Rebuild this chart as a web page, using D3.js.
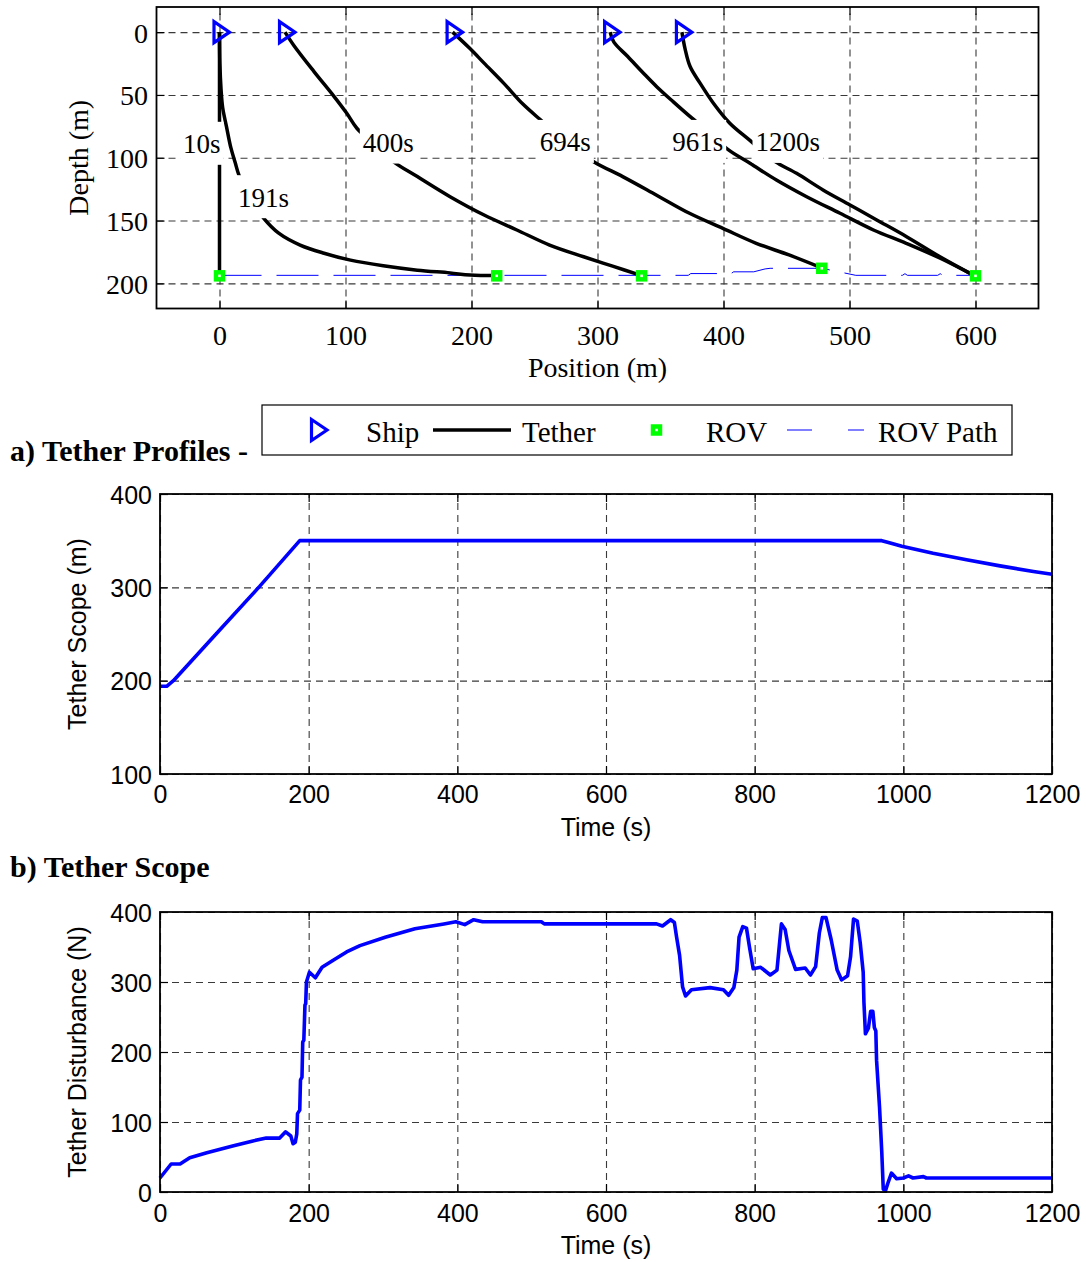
<!DOCTYPE html>
<html><head><meta charset="utf-8">
<script src="https://cdn.jsdelivr.net/npm/d3@7"></script>
<style>body{margin:0;background:#fff}</style>
</head><body>
<svg id="c" width="1086" height="1262" xmlns="http://www.w3.org/2000/svg"></svg>
<script>
// ---------------- DATA ----------------
// a) Tether profiles  [position (m), depth (m)]
const profileTimes = ["10s", "191s", "400s", "694s", "961s", "1200s"];
const shipX = [0, 52, 185, 310, 367];
const rovX = [0, 220, 335, 478, 600];
const rovDepth = [194, 194, 194, 188, 194];
const tether10 = [[0,0],[0,194]];
const tether191 = [[0,0],[0.3,25],[1.2,45],[2.5,60],[5.5,75],[9,92],[12.5,104],[15.5,114],[25,133],[35,148],[47,160],[64,169.5],[83,176],[104,181.5],[130,186],[157,189.5],[183,191.7],[199,193.4],[220,193.8]];
const tether400 = [[52,0],[59,10.6],[75,31.4],[91,51.3],[101,64.6],[109,76.5],[124,90],[138,103],[157,115],[183,131],[210,145.6],[236,157.5],[262,169.5],[289,178.8],[312,186.3],[335,193.8]];
const tether694 = [[185,0],[199,13.3],[210,24.7],[225.5,40.6],[241,57.5],[255,70],[275,87],[297,103.1],[320,115],[346.6,129.6],[373,144.2],[399.5,156.2],[426,168.1],[452,177.4],[477.4,187.5]];
const tether961 = [[310,0],[313,8],[324,19.4],[336.5,32.7],[347,43.4],[360,55.3],[375,68.5],[390,81],[404,93.8],[421,104.4],[442,117.7],[466,131],[492.5,144.2],[519,157.5],[545,168.1],[572,180],[599,193.8]];
const tether1200 = [[367,0],[369.5,13.3],[373.5,27.4],[381.4,40.6],[392,56.6],[405,72.5],[420.5,85.8],[430,94],[441,103.1],[458,112.4],[479,125.6],[500.4,137.6],[521.6,149.5],[545.3,162.8],[571.8,178.8],[599,193.8]];
const rovPath = [[0,193.6],[372,193.6],[374,192.2],[406,192.2],[408,190.8],[424,190.8],[433,188.5],[437,188],[479,188],[487,190],[495,191.5],[505,193.6],[542,193.6],[544,192.3],[546,193.6],[570,193.6],[572,192.3],[574,193.6],[600,193.6]];
const labelX = [-14, 35, 134, 274.5, 379.5, 451];
const labelDepth = [88.5, 131, 87.5, 87, 87, 87];
const posTicks = [0, 100, 200, 300, 400, 500, 600];
const depthTicks = [0, 50, 100, 150, 200];

// b) Tether scope
const scopeTime  = [0, 9, 18, 72, 134, 188, 971, 980, 998, 1040, 1085, 1130, 1175, 1200];
const scopeValue = [194, 194, 200, 247, 301, 350, 350, 348, 344, 336.5, 329.5, 323, 317, 314];
const timeTicks = [0, 200, 400, 600, 800, 1000, 1200];
const scopeTicks = [100, 200, 300, 400];

// c) Tether disturbance
const distTime  = [0,15,27,40,63,99,125,143,161,169,176,179,182,184,185,188,189,191,192,193.5,195,196,197,201,209,218,233,251,269,303,343,382,398,410,422,434,513,517,668,676,687,692,695,699,703,707,715,740,758,765,772,776,779,784,789,793,798,808,821,830,833,836,841,846,855,868,875,882,887,891,896,903,911,917,925,929,933,938,942,946,947,949,953,956,959,961,963,964,968,971,973,976,979,984,991,1000,1007,1013,1027,1031,1200];
const distValue = [20,40,40,49,56,66,73,77,77,86,80,69,71,83,112,117,160,164,214,217,267,269,300,314,306,321,331,343,352,364,376,383,386,382,389,386,386,383,383,380,389,385,364,338,293,280,289,292,289,281,292,317,364,379,377,350,319,321,310,317,350,383,375,345,318,320,310,322,370,392,392,360,317,303,309,336,390,387,356,314,271,226,234,258,258,235,230,188,121,57,4,2,12,27,19,20,23,20,22,20,20];
const distTicks = [0, 100, 200, 300, 400];

// ---------------- DRAW ----------------
const svg = d3.select('#c');
const serif = '"Liberation Serif","Times New Roman",Times,serif';
const sans = '"Liberation Sans",Arial,Helvetica,sans-serif';

function box(x, y) {
  return {L: Math.min(...x.range()), R: Math.max(...x.range()),
          T: Math.min(...y.range()), B: Math.max(...y.range())};
}
function drawGrid(x, y, xt, yt) {
  const b = box(x, y);
  const g = svg.append('g');
  g.append('g').attr('transform', `translate(0,${b.B})`)
    .call(d3.axisBottom(x).tickValues(xt).tickSize(-(b.B - b.T)).tickFormat(''));
  g.append('g').attr('transform', `translate(${b.L},0)`)
    .call(d3.axisLeft(y).tickValues(yt).tickSize(-(b.R - b.L)).tickFormat(''));
  g.selectAll('.domain').remove();
  g.selectAll('line').attr('stroke', '#3a3a3a').attr('stroke-width', 1.1).attr('stroke-dasharray', '7,5');
}
function drawAxes(x, y, xt, yt, o) {
  const b = box(x, y);
  const g = svg.append('g');
  const tl = 8;
  g.append('g').attr('transform', `translate(0,${b.B})`).call(d3.axisBottom(x).tickValues(xt).tickSize(-tl).tickFormat(''));
  g.append('g').attr('transform', `translate(0,${b.T})`).call(d3.axisTop(x).tickValues(xt).tickSize(-tl).tickFormat(''));
  g.append('g').attr('transform', `translate(${b.L},0)`).call(d3.axisLeft(y).tickValues(yt).tickSize(-tl).tickFormat(''));
  g.append('g').attr('transform', `translate(${b.R},0)`).call(d3.axisRight(y).tickValues(yt).tickSize(-tl).tickFormat(''));
  g.selectAll('.domain').remove();
  g.selectAll('line').attr('stroke', '#000').attr('stroke-width', 1.2);
  g.append('rect').attr('x', b.L).attr('y', b.T).attr('width', b.R - b.L).attr('height', b.B - b.T)
    .attr('fill', 'none').attr('stroke', '#000').attr('stroke-width', 1.8);
  const xl = g.append('g').attr('transform', `translate(0,${b.B})`)
    .call(d3.axisBottom(x).tickValues(xt).tickSize(0).tickFormat(d3.format('d')));
  xl.attr('font-family', o.font).attr('font-size', o.size);
  xl.select('.domain').remove();
  xl.selectAll('text').attr('y', o.xBase - b.B).attr('dy', null).attr('fill', '#000');
  const yl = g.append('g').attr('transform', `translate(${b.L},0)`)
    .call(d3.axisLeft(y).tickValues(yt).tickSize(0).tickFormat(d3.format('d')));
  yl.attr('font-family', o.font).attr('font-size', o.size);
  yl.select('.domain').remove();
  yl.selectAll('text').attr('x', o.yRight - b.L).attr('dy', null).attr('y', o.yDy).attr('fill', '#000');
  svg.append('text').attr('x', (b.L + b.R) / 2).attr('y', o.xTitleBase)
    .attr('text-anchor', 'middle').attr('font-family', o.font).attr('font-size', o.titleSize).text(o.xTitle);
  svg.append('text').attr('transform', `translate(${o.yTitleX},${(b.T + b.B) / 2}) rotate(-90)`)
    .attr('text-anchor', 'middle').attr('font-family', o.font).attr('font-size', o.titleSize).text(o.yTitle);
}

// ---- Panel a ----
const x1 = d3.scaleLinear().domain([-50, 650]).range([156.5, 1038.5]);
const y1 = d3.scaleLinear().domain([-20, 220]).range([7, 308.5]);
drawGrid(x1, y1, posTicks, depthTicks);
const line1 = d3.line().x(d => x1(d[0])).y(d => y1(d[1]));
const curve1 = d3.line().x(d => x1(d[0])).y(d => y1(d[1])).curve(d3.curveCatmullRom.alpha(0.5));
svg.append('path').attr('d', line1(rovPath)).attr('fill', 'none').attr('stroke', '#0000ff')
  .attr('stroke-width', 1).attr('stroke-dasharray', '42,15');
const tethers = [tether10, tether191, tether400, tether694, tether961, tether1200];
svg.append('g').selectAll('path').data(tethers).join('path')
  .attr('d', curve1).attr('fill', 'none').attr('stroke', '#000').attr('stroke-width', 3.5)
  .attr('stroke-linejoin', 'round');
const triPath = 'M-5.5,-10.5 L10,0 L-5.5,10.5 Z';
svg.append('g').selectAll('path').data(shipX).join('path')
  .attr('transform', d => `translate(${x1(d)},${y1(0)})`).attr('d', triPath)
  .attr('fill', 'none').attr('stroke', '#0000ff').attr('stroke-width', 3.2);
svg.append('g').selectAll('rect').data(rovX).join('rect')
  .attr('x', (d) => x1(d) - 3.5).attr('y', (d, i) => y1(rovDepth[i]) - 3.5)
  .attr('width', 7).attr('height', 7).attr('fill', '#fff').attr('stroke', '#00ff00').attr('stroke-width', 4.5);
profileTimes.forEach((t, i) => {
  const cx = x1(labelX[i]), cy = y1(labelDepth[i]);
  const gg = svg.append('g');
  const txt = gg.append('text').attr('x', cx).attr('y', cy + 10).attr('text-anchor', 'middle')
    .attr('font-family', serif).attr('font-size', 27).text(t);
  const bb = txt.node().getBBox();
  gg.insert('rect', 'text').attr('x', bb.x - 3).attr('y', cy - 21.5).attr('width', bb.width + 6)
    .attr('height', 43).attr('fill', '#fff');
});
drawAxes(x1, y1, posTicks, depthTicks, {font: serif, size: 28, xBase: 345, yRight: 148, yDy: 10,
  xTitle: 'Position (m)', xTitleBase: 377, titleSize: 28, yTitle: 'Depth (m)', yTitleX: 88});

// legend
const lg = svg.append('g');
lg.append('rect').attr('x', 262).attr('y', 405).attr('width', 750).attr('height', 50)
  .attr('fill', '#fff').attr('stroke', '#000').attr('stroke-width', 1.2);
lg.append('path').attr('transform', 'translate(317,430)').attr('d', triPath)
  .attr('fill', 'none').attr('stroke', '#0000ff').attr('stroke-width', 3.2);
lg.append('line').attr('x1', 433).attr('x2', 511).attr('y1', 430).attr('y2', 430).attr('stroke', '#000').attr('stroke-width', 3.5);
lg.append('rect').attr('x', 653).attr('y', 426.5).attr('width', 7).attr('height', 7)
  .attr('fill', '#fff').attr('stroke', '#00ff00').attr('stroke-width', 4.5);
lg.append('line').attr('x1', 787).attr('x2', 864).attr('y1', 430).attr('y2', 430).attr('stroke', '#0000ff')
  .attr('stroke-width', 1).attr('stroke-dasharray', '25,36');
[['Ship', 366], ['Tether', 522], ['ROV', 706], ['ROV Path', 878]].forEach(([t, x]) => {
  lg.append('text').attr('x', x).attr('y', 442).attr('font-family', serif).attr('font-size', 29).text(t);
});
svg.append('text').attr('x', 10).attr('y', 461).attr('font-family', serif).attr('font-weight', 'bold')
  .attr('font-size', 30).text('a) Tether Profiles -');

// ---- Panel b ----
const x2 = d3.scaleLinear().domain([0, 1200]).range([160, 1052]);
const y2 = d3.scaleLinear().domain([100, 400]).range([774, 494]);
drawGrid(x2, y2, timeTicks, scopeTicks);
svg.append('path').datum(scopeTime.map((t, i) => [t, scopeValue[i]]))
  .attr('d', d3.line().x(d => x2(d[0])).y(d => y2(d[1])))
  .attr('fill', 'none').attr('stroke', '#0000ff').attr('stroke-width', 3.6).attr('stroke-linejoin', 'round');
drawAxes(x2, y2, timeTicks, scopeTicks, {font: sans, size: 25, xBase: 803, yRight: 152, yDy: 9,
  xTitle: 'Time (s)', xTitleBase: 836, titleSize: 25, yTitle: 'Tether Scope (m)', yTitleX: 86});
svg.append('text').attr('x', 10).attr('y', 877).attr('font-family', serif).attr('font-weight', 'bold')
  .attr('font-size', 30).text('b) Tether Scope');

// ---- Panel c ----
const x3 = d3.scaleLinear().domain([0, 1200]).range([160, 1052]);
const y3 = d3.scaleLinear().domain([0, 400]).range([1192, 912]);
drawGrid(x3, y3, timeTicks, distTicks);
svg.append('path').datum(distTime.map((t, i) => [t, distValue[i]]))
  .attr('d', d3.line().x(d => x3(d[0])).y(d => y3(d[1])))
  .attr('fill', 'none').attr('stroke', '#0000ff').attr('stroke-width', 3.6).attr('stroke-linejoin', 'round');
drawAxes(x3, y3, timeTicks, distTicks, {font: sans, size: 25, xBase: 1222, yRight: 152, yDy: 9,
  xTitle: 'Time (s)', xTitleBase: 1254, titleSize: 25, yTitle: 'Tether Disturbance (N)', yTitleX: 86});
</script>
</body></html>
